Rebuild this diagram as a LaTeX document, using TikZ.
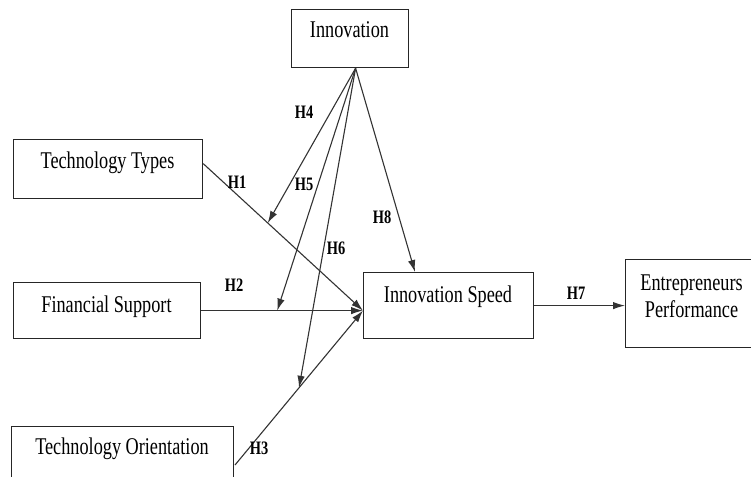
\documentclass[tikz,border=0pt]{standalone}
\usepackage{fontspec}
\setmainfont{Liberation Serif}[FakeStretch=0.76]
\usetikzlibrary{arrows.meta}
\begin{document}
\begin{tikzpicture}[x=1pt,y=-1pt,
  box/.style={draw=black!85, line width=1.2pt, rectangle, inner sep=0pt, anchor=north west},
  txt/.style={anchor=base, inner sep=0pt, font=\fontsize{24}{28}\selectfont},
  hlab/.style={inner sep=0pt, font=\fontsize{19}{21}\selectfont\bfseries},
  arr/.style={draw=black!80, line width=1.1pt, -{Latex[length=12pt,width=7.5pt]}},
  ln/.style={draw=black!80, line width=1.1pt}]
\useasboundingbox (0,0) rectangle (751,476);
% boxes
\node[box, minimum width=117pt, minimum height=58pt] (Inn) at (291,9) {};
\node[box, minimum width=189pt, minimum height=59pt] (TT) at (13,139) {};
\node[box, minimum width=187pt, minimum height=56pt] (FS) at (13,282) {};
\node[box, minimum width=222pt, minimum height=70pt] (TO) at (11,426) {};
\node[box, minimum width=170pt, minimum height=66pt] (IS) at (363,272) {};
\node[box, minimum width=170pt, minimum height=88pt] (EP) at (625,259) {};
% texts
\node[txt] (InnT) at (349.5,38) {Innovation};
\node[txt] (TTT) at (107.5,168) {Technology Types};
\node[txt] (FST) at (106.5,312) {Financial Support};
\node[txt] (TOT) at (122,454) {Technology Orientation};
\node[txt] (IST) at (448,302) {Innovation Speed};
\node[txt] (EPT1) at (691.5,290) {Entrepreneurs};
\node[txt] (EPT2) at (691.5,317) {Performance};
% coordinates
\coordinate (apex) at ([xshift=5.5pt]Inn.south);
\coordinate (conv) at ([yshift=-5pt]IS.west);
\coordinate (h1s) at ([yshift=5.5pt]TT.east);
\coordinate (h3s) at (235,465);
\path (h1s) -- (conv) coordinate[pos=0.404] (h1p);
\path (FS.east) -- (conv) coordinate[pos=0.47] (h2p);
\path (h3s) -- (conv) coordinate[pos=0.5] (h3p);
\coordinate (h8p) at ([xshift=52pt]IS.north west);
% connectors
\draw[arr] (h1s) -- (conv);
\draw[arr] (FS.east) -- (conv);
\draw[arr] (h3s) -- (conv);
\draw[arr] (apex) -- (h1p);
\draw[arr] (apex) -- (h2p);
\draw[arr] (apex) -- (h3p);
\draw[arr] (apex) -- (h8p);
\draw[arr] (IS.east) -- (IS.east -| EP.west);
% labels
\node[hlab] (H1) at (237,182) {H1};
\node[hlab] (H2) at (234,285) {H2};
\node[hlab] (H3) at (259,448) {H3};
\node[hlab] (H4) at (304,112) {H4};
\node[hlab] (H5) at (304,184) {H5};
\node[hlab] (H6) at (336,248) {H6};
\node[hlab] (H7) at (576,293) {H7};
\node[hlab] (H8) at (382,217) {H8};
\end{tikzpicture}
\end{document}
